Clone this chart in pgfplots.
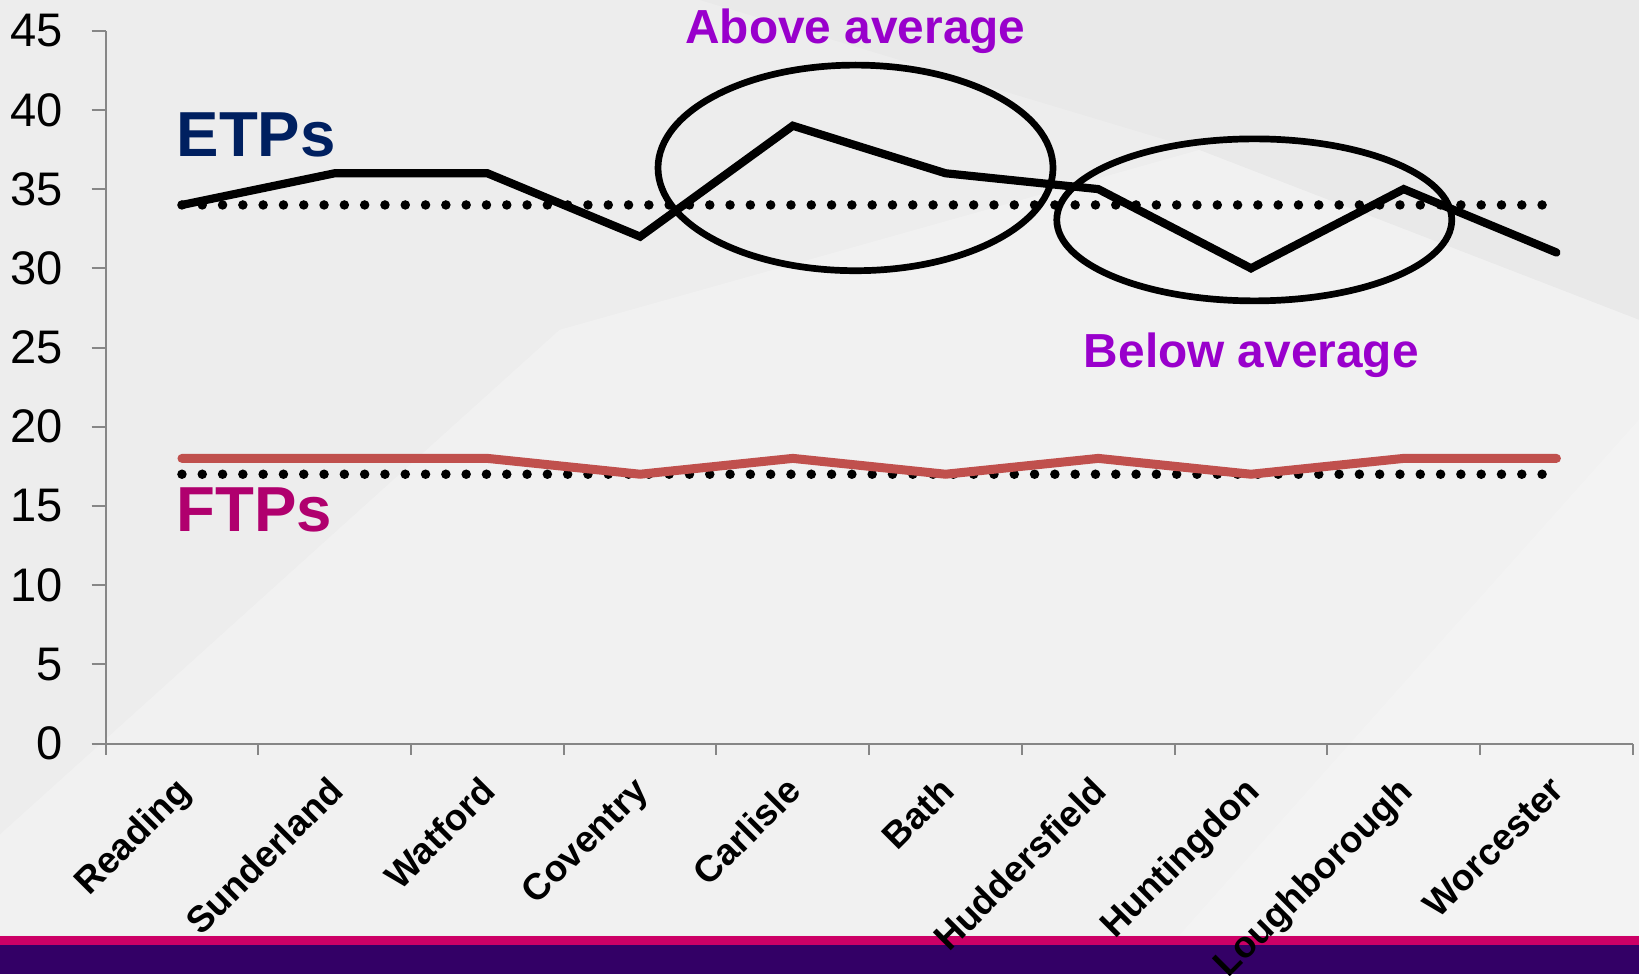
\documentclass[border=0pt]{standalone}
\usepackage{pgfplots}
\pgfplotsset{compat=1.18}
\usepackage{fontspec}
\setmainfont{Liberation Sans}

\definecolor{bgbase}{HTML}{EDEDED}
\definecolor{bglight}{HTML}{F3F3F3}
\definecolor{axisgray}{HTML}{868686}
\definecolor{etpblue}{HTML}{002060}
\definecolor{ftpmagenta}{HTML}{B0006E}
\definecolor{ftpred}{HTML}{C0504D}
\definecolor{notepurple}{HTML}{9900CC}
\definecolor{barpink}{HTML}{CC0066}
\definecolor{barpurple}{HTML}{330066}

% ETPs and FTPs per centre
\pgfplotstableread{
idx etp ftp
0 34 18
1 36 18
2 36 18
3 32 17
4 39 18
5 36 17
6 35 18
7 30 17
8 35 18
9 31 18
}\centres

\begin{document}
\begin{tikzpicture}
\path[use as bounding box] (0,0) rectangle (16.4cm,9.75cm);

% slide background (pixel-like units, origin top left)
\begin{scope}[yshift=9.75cm, x=0.01cm, y=-0.01cm]
  \fill[bgbase] (0,0) rectangle (1640,975);
  \fill[bglight, opacity=0.7] (0,835) -- (560,330) -- (1200,150) -- (1640,320) -- (1640,936) -- (0,936) -- cycle;
  \fill[white, opacity=0.2] (1180,936) -- (1390,700) -- (1640,420) -- (1640,936) -- cycle;
  \fill[black, opacity=0.015] (700,0) -- (1640,0) -- (1640,320) -- (1200,150) -- cycle;
  \fill[barpink] (0,936.7) rectangle (1640,945.7);
  \fill[barpurple] (0,945.7) rectangle (1640,975);
\end{scope}

\begin{axis}[
  at={(1.056cm,2.315cm)}, anchor=south west,
  scale only axis, width=15.272cm, height=7.128cm,
  xmin=-0.5, xmax=9.5, ymin=0, ymax=45,
  clip=false,
  axis x line*=bottom, axis y line*=left,
  axis line style={draw=axisgray, line width=0.02cm, -},
  tick align=outside,
  major tick length=0.14cm, minor tick length=0.11cm,
  tick style={draw=axisgray, line width=0.02cm},
  major x tick style={draw=none},
  xtick={0,...,9},
  minor xtick={-0.5,0.5,...,9.5},
  xticklabels={Reading,Sunderland,Watford,Coventry,Carlisle,Bath,Huddersfield,Huntingdon,Loughborough,Worcester},
  xticklabel style={xshift=-0.085cm, yshift=-0.16cm, font=\bfseries\fontsize{10.5}{12}\selectfont, rotate=45, anchor=north east, inner sep=0pt},
  ytick={0,5,...,45},
  yticklabel style={font=\fontsize{13.4}{15}\selectfont, anchor=east, inner sep=0pt, xshift=-0.28cm},
  /pgf/number format/assume math mode=true,
]
  % averages
  \addplot[black, line width=0.095cm, line cap=round, dash pattern=on 0pt off 0.203cm] coordinates {(0,34) (9,34)};
  \addplot[black, line width=0.095cm, line cap=round, dash pattern=on 0pt off 0.203cm] coordinates {(0,17) (9,17)};
  % series
  \addplot[ftpred, line width=0.09cm, line cap=round, line join=miter] table[x=idx, y=ftp] {\centres};
  \addplot[black, line width=0.082cm, line cap=round, line join=miter] table[x=idx, y=etp] {\centres};
\end{axis}

% annotations
\begin{scope}[yshift=9.75cm, x=0.01cm, y=-0.01cm]
  \draw[black, line width=0.067cm] (856,168) ellipse [x radius=1.975cm, y radius=1.028cm];
  \draw[black, line width=0.067cm] (1255,220) ellipse [x radius=1.975cm, y radius=0.81cm];
  \node[anchor=base west, inner sep=0pt, text=etpblue, font=\bfseries\fontsize{18.1}{20}\selectfont] at (176,156.7) {ETPs};
  \node[anchor=base west, inner sep=0pt, text=ftpmagenta, font=\bfseries\fontsize{18.1}{20}\selectfont] at (176,531.7) {FTPs};
  \node[anchor=base, inner sep=0pt, text=notepurple, font=\bfseries\fontsize{13.6}{16}\selectfont] at (856,43.3) {Above average};
  \node[anchor=base, inner sep=0pt, text=notepurple, font=\bfseries\fontsize{13.6}{16}\selectfont] at (1252,368) {Below average};
\end{scope}
\end{tikzpicture}
\end{document}
